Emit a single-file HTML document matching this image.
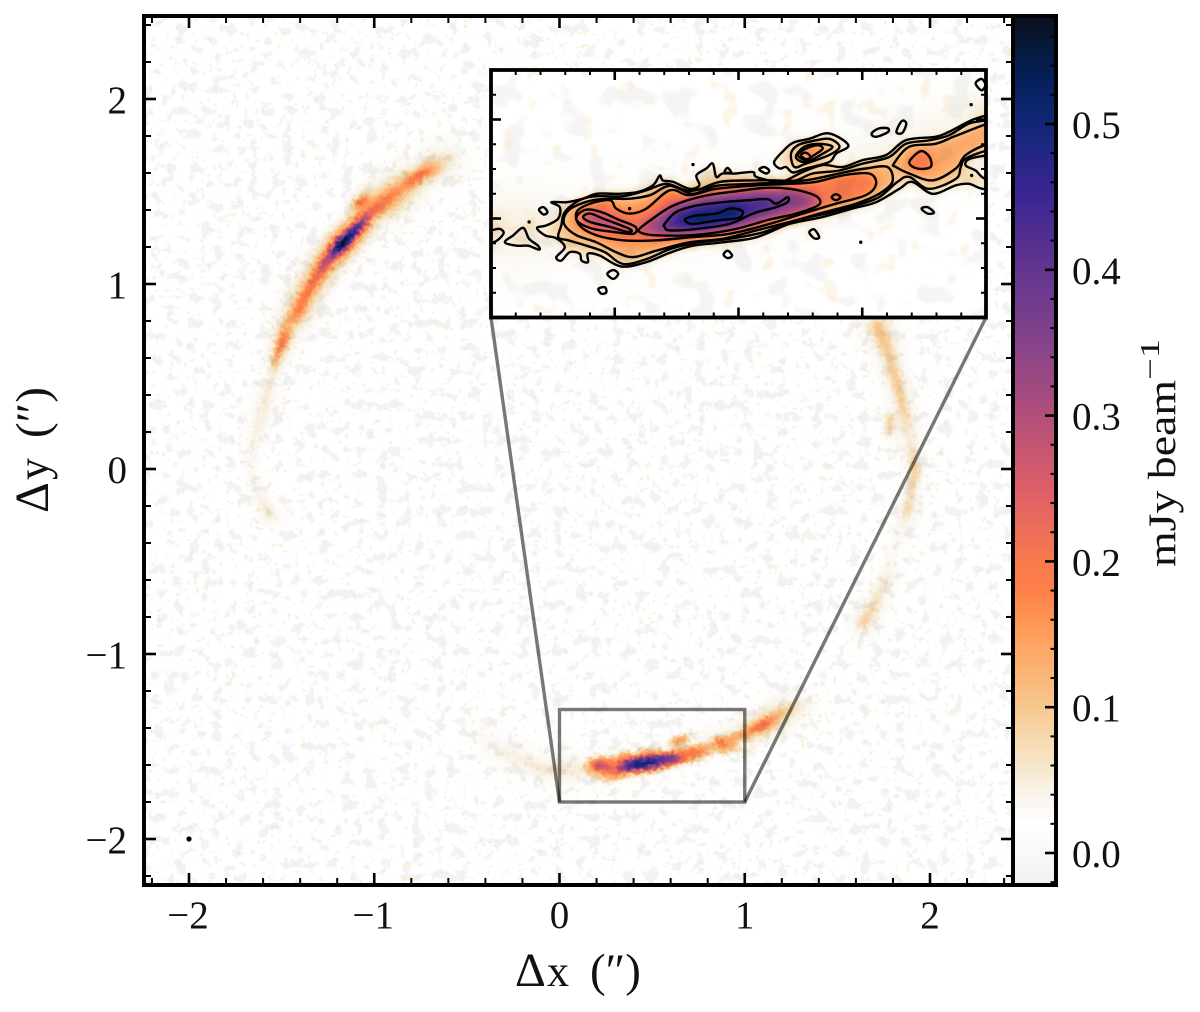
<!DOCTYPE html>
<html lang="en">
<head>
<meta charset="utf-8">
<title>Lensed arc continuum map</title>
<style>
html,body{margin:0;padding:0;background:#fff;}
#page{position:relative;width:1200px;height:1012px;overflow:hidden;background:#fff;}
#main-map{position:absolute;left:143px;top:16px;width:869px;height:868px;filter:url(#rough);}
#inset-map{position:absolute;left:491px;top:70px;width:496px;height:247px;background:#fff;}
svg{position:absolute;left:0;top:0;}
text{font-family:"Liberation Serif","DejaVu Serif",serif;fill:#111;font-size:39px;}
</style>
</head>
<body>
<div id="page">
<canvas id="main-map" width="435" height="434"></canvas>
<svg id="under" width="1200" height="1012" style="z-index:1;mix-blend-mode:multiply">
  <defs>
    <filter id="rough" x="0" y="0" width="100%" height="100%" color-interpolation-filters="sRGB">
      <feTurbulence type="fractalNoise" baseFrequency="0.25" numOctaves="2" seed="3" result="n"/>
      <feDisplacementMap in="SourceGraphic" in2="n" scale="7" xChannelSelector="R" yChannelSelector="G"/>
    </filter>
    <filter id="greyBlotch" x="0" y="0" width="100%" height="100%" color-interpolation-filters="sRGB">
      <feTurbulence type="fractalNoise" baseFrequency="0.085" numOctaves="3" seed="11"/>
      <feColorMatrix type="matrix" values="0 0 0 0 0.95  0 0 0 0 0.95  0 0 0 0 0.95  9 0 0 0 -5.1"/>
    </filter>
    <filter id="peachSpeck" x="0" y="0" width="100%" height="100%" color-interpolation-filters="sRGB">
      <feTurbulence type="fractalNoise" baseFrequency="0.16" numOctaves="2" seed="27"/>
      <feColorMatrix type="matrix" values="0 0 0 0 0.98  0 0 0 0 0.9  0 0 0 0 0.78  0 10 0 0 -6.6"/>
    </filter>
    <filter id="greyBlotchInset" x="0" y="0" width="100%" height="100%" color-interpolation-filters="sRGB">
      <feTurbulence type="fractalNoise" baseFrequency="0.036" numOctaves="2" seed="5"/>
      <feColorMatrix type="matrix" values="0 0 0 0 0.96  0 0 0 0 0.96  0 0 0 0 0.96  9 0 0 0 -5.1"/>
    </filter>
    <filter id="peachSpeckInset" x="0" y="0" width="100%" height="100%" color-interpolation-filters="sRGB">
      <feTurbulence type="fractalNoise" baseFrequency="0.05" numOctaves="2" seed="19"/>
      <feColorMatrix type="matrix" values="0 0 0 0 0.98  0 0 0 0 0.92  0 0 0 0 0.82  0 8 0 0 -5"/>
    </filter>
    <clipPath id="insetClip"><rect x="491" y="70" width="495" height="247.5"/></clipPath>
  </defs>
  <rect x="143" y="16" width="869" height="868" filter="url(#greyBlotch)"/>
  <rect x="143" y="16" width="869" height="868" filter="url(#peachSpeck)" opacity="0.55"/>
</svg>
<canvas id="inset-map" width="496" height="247" style="z-index:2"></canvas>
<svg id="insetNoise" width="1200" height="1012" style="z-index:3;mix-blend-mode:multiply">
  <g clip-path="url(#insetClip)">
    <rect x="491" y="70" width="495" height="248" filter="url(#greyBlotchInset)"/>
    <rect x="491" y="70" width="495" height="248" filter="url(#peachSpeckInset)" opacity="0.5"/>
  </g>
</svg>
<svg id="top" width="1200" height="1012" style="z-index:4">
  <defs>
    <linearGradient id="cbarGrad" x1="0" y1="1" x2="0" y2="0"></linearGradient>
  </defs>
  <g id="contours" clip-path="url(#insetClip)" fill="none" stroke="#000" stroke-width="2.4" stroke-linejoin="round"></g>
  <g id="contourDots" clip-path="url(#insetClip)"></g>
  <g id="zoomGuides" fill="none" stroke="#000" stroke-opacity="0.53" stroke-width="3.4"></g>
  <circle id="beam" r="2.6" fill="#000"></circle>
  <rect id="cbarFill" x="1013" y="16" width="43" height="869" fill="url(#cbarGrad)"/>
  <g id="mainTicks" stroke="#000"></g>
  <g id="insetTicks" stroke="#000"></g>
  <g id="cbarTicks" stroke="#000"></g>
  <rect x="144" y="16" width="869" height="869" fill="none" stroke="#000" stroke-width="4"/>
  <rect x="491" y="70" width="495" height="247.5" fill="none" stroke="#000" stroke-width="3.8"/>
  <rect x="1013" y="16" width="43" height="869" fill="none" stroke="#000" stroke-width="4"/>
  <g id="tickLabels"></g>
  <text y="986"><tspan x="515" style="font-size:48px">Δ</tspan><tspan x="547" style="font-size:44px">x</tspan><tspan x="590" style="font-size:47px">(″)</tspan></text>
  <text transform="translate(48,513) rotate(-90)"><tspan x="0" style="font-size:48px">Δ</tspan><tspan x="33" style="font-size:44px">y</tspan><tspan x="75" style="font-size:47px">(″)</tspan></text>
  <text transform="translate(1175,567) rotate(-90)" textLength="187" lengthAdjust="spacingAndGlyphs">mJy beam</text>
  <text transform="translate(1159,380) rotate(-90)" textLength="41" lengthAdjust="spacingAndGlyphs" style="font-size:27px">−1</text>
</svg>
</div>
<script>
/* ---------- axes values ---------- */
const xTickValues = [-2, -1, 0, 1, 2];
const yTickValues = [-2, -1, 0, 1, 2];
const axisTickLabels = ['−2', '−1', '0', '1', '2'];
const colorbarTickValues = [0, 0.1, 0.2, 0.3, 0.4, 0.5];
const colorbarTickLabels = ['0.0', '0.1', '0.2', '0.3', '0.4', '0.5'];
const insetXTicks = [0.25, 0.5, 0.75];
const insetYTicks = [-1.6, -1.4];

/* ---------- colour map (mJy/beam → colour) ---------- */
const cmapValues = [-0.021, 0, 0.018, 0.04, 0.06, 0.08, 0.1, 0.125, 0.15, 0.18, 0.2, 0.25, 0.3, 0.35, 0.4, 0.45, 0.5, 0.53, 0.55, 0.574];
const cmapColors = ['#f2f2f2', '#f8f8f8', '#ffffff', '#f9f5ec', '#f6e6cb', '#f6d8ad', '#f6c88f', '#fbb374', '#fe9e5d', '#ff8048', '#f87a4e', '#dd5e68', '#b24f7a', '#85438a', '#63358f', '#3c2692', '#112777', '#05205a', '#061a40', '#0a0f1c'];

/* ---------- arc ridges: position (arcsec), peak flux (mJy/beam), width (arcsec) ---------- */
const leftArcX = [-1.545, -1.499, -1.464, -1.41, -1.365, -1.311, -1.239, -1.176, -1.095, -1.023, -0.933, -0.843, -0.753, -0.627, -0.555];
const leftArcY = [0.553, 0.679, 0.778, 0.859, 0.95, 1.039, 1.148, 1.216, 1.301, 1.382, 1.454, 1.526, 1.589, 1.661, 1.706];
const leftArcPeak = [0.04, 0.19, 0.1, 0.17, 0.17, 0.2, 0.3, 0.57, 0.42, 0.2, 0.17, 0.13, 0.2, 0.05, 0.02];
const leftArcWidth = [0.012, 0.014, 0.022, 0.022, 0.022, 0.022, 0.02, 0.018, 0.018, 0.02, 0.028, 0.028, 0.016, 0.03, 0.02];
const leftKnotX = [-1.08, -1.055];
const leftKnotY = [1.435, 1.455];
const leftKnotPeak = [0.16, 0.15];
const leftKnotWidth = [0.014, 0.014];
const leftTailX = [-1.52, -1.58, -1.615, -1.66, -1.665, -1.63, -1.563];
const leftTailY = [0.6, 0.4, 0.265, 0.1, -0.02, -0.14, -0.249];
const leftTailPeak = [0.02, 0.035, 0.03, 0.018, 0.012, 0.022, 0.04];
const leftTailWidth = [0.016, 0.018, 0.02, 0.016, 0.014, 0.016, 0.018];
const rightArcX = [1.719, 1.784, 1.827, 1.854, 1.892, 1.919, 1.881];
const rightArcY = [0.768, 0.605, 0.443, 0.335, 0.173, -0.016, -0.222];
const rightArcPeak = [0.09, 0.075, 0.075, 0.07, 0.03, 0.075, 0.025];
const rightArcWidth = [0.024, 0.02, 0.018, 0.018, 0.022, 0.014, 0.018];
const rightKnotX = [1.784, 1.78];
const rightKnotY = [0.27, 0.2];
const rightKnotPeak = [0.07, 0.05];
const rightKnotWidth = [0.012, 0.012];
const rightFaintX = [1.881, 1.82, 1.77];
const rightFaintY = [-0.222, -0.4, -0.6];
const rightFaintPeak = [0.03, 0.012, 0.015];
const rightFaintWidth = [0.02, 0.02, 0.02];
const rightLowerX = [1.76, 1.692, 1.638];
const rightLowerY = [-0.6, -0.746, -0.832];
const rightLowerPeak = [0.025, 0.055, 0.07];
const rightLowerWidth = [0.016, 0.02, 0.018];
const bottomRightX = [1.03, 1.099, 1.19, 1.298];
const bottomRightY = [-1.415, -1.384, -1.33, -1.276];
const bottomRightPeak = [0.14, 0.2, 0.09, 0.035];
const bottomRightWidth = [0.018, 0.018, 0.024, 0.024];
const bottomLeftX = [0, -0.08, -0.27, -0.43];
const bottomLeftY = [-1.62, -1.627, -1.546, -1.44];
const bottomLeftPeak = [0.04, 0.035, 0.025, 0.01];
const bottomLeftWidth = [0.024, 0.024, 0.024, 0.024];
const bottomGlowX = [0.1, 0.3, 0.5, 0.7, 0.9];
const bottomGlowY = [-1.62, -1.62, -1.58, -1.52, -1.44];
const bottomGlowPeak = [0.028, 0.03, 0.028, 0.028, 0.025];
const bottomGlowWidth = [0.025, 0.025, 0.025, 0.025, 0.025];

/* ---------- traced inset contours, flat u,v pairs in milli-arcsec from the inset's top-left
   corner (x = u/1000, y = -1.3 - v/1000), one array per contour level ---------- */
const contourFill = [0.065, 0.09, 0.12, 0.185, 0.22, 0.33, 0.45, 0.55];
const level1Contours = [
 [93,319,109,334,132,340,149,358,132,378,142,385,159,368,179,371,183,385,196,388,196,371,220,375,263,397,314,388,364,368,408,355,468,348,536,338,603,311,670,297,730,280,778,267,825,240,851,226,892,250,939,233,966,230,993,240,1046,243,1046,223,999,220,979,203,959,193,966,180,1006,172,1046,169,1046,84,1005,91,972,101,925,125,898,135,838,142,798,172,751,182,710,196,670,192,630,206,596,223,576,226,536,216,529,206,495,209,468,209,455,216,448,189,435,199,415,213,421,233,401,240,368,226,347,223,341,213,327,233,294,247,253,250,213,250,186,260,153,267,122,267,139,277,136,300,112,314],
 [572,186,589,165,610,147,643,139,683,128,722,152,697,169,683,186,636,199,610,207,596,196,583,199],
 [28,348,45,334,65,319,77,341,95,355,97,363,75,355,52,355],
 [-2,324,18,321,25,331,5,348,-29,348,-29,324],
 [97,282,106,277,114,287,106,292],
 [235,412,247,404,257,412,247,422],
 [217,442,230,439,233,449,223,452],
 [470,373,478,365,487,375,478,380],
 [643,328,653,322,663,338,653,340],
 [870,280,882,277,895,288,882,290],
 [819,125,830,103,839,108,831,127],
 [769,128,784,118,802,118,801,126,777,135],
 [979,27,991,18,999,30,991,41],
 [472,206,478,198,485,207],
 [542,201,552,196,562,203,556,209]
];
const level2Contours = [
 [149,287,142,314,136,338,156,344,193,355,230,368,267,392,314,382,364,361,415,349,482,341,549,328,616,304,677,290,737,274,784,257,821,226,845,216,885,240,939,220,949,196,959,179,1005,162,1046,159,1046,91,1005,101,966,108,925,132,885,142,838,149,804,176,751,189,704,203,650,209,616,223,576,223,522,223,462,226,421,241,394,243,354,230,314,243,267,255,213,255,179,263],
 [606,169,620,152,647,144,683,139,704,155,683,172,636,189,613,196]
];
const level3Contours = [
 [166,277,206,263,247,260,280,260,321,253,361,234,408,250,455,234,529,230,603,226,653,220,717,206,757,199,801,196,811,226,784,250,737,270,670,288,603,307,536,324,468,341,401,348,334,365,287,378,253,368,213,348,173,334,149,314,149,294],
 [814,189,845,155,898,149,939,133,1005,108,1046,101,1046,149,1005,149,959,172,939,199,892,223,845,209,818,196],
 [616,176,633,155,663,149,690,155,670,169,636,186]
];
const level4Contours = [
 [173,287,200,270,240,263,253,280,280,290,314,280,361,243,401,253,455,240,536,233,603,230,656,226,710,213,764,209,778,230,757,253,697,270,630,290,563,311,482,331,401,338,334,344,267,344,213,334,179,314],
 [620,172,636,159,660,152,670,159,653,172,636,182]
];
const level5Contours = [
 [174,294,193,282,223,287,257,302,292,317,287,331,247,327,206,321,176,307],
 [688,257,697,251,706,257,697,263],
 [845,186,868,164,886,176,888,196,861,199],
 [626,172,636,167,646,176,636,180]
];
const level6Contours = [
 [300,321,327,300,368,274,428,255,495,245,556,238,603,240,643,249,663,260,660,274,616,290,563,302,495,321,415,333,334,334,304,329],
 [186,297,200,290,226,300,280,321,277,327,240,317,200,307]
];
const level7Contours = [
 [351,311,374,287,415,274,468,267,522,263,559,261,576,270,599,257,599,267,576,277,529,290,482,311,415,321,361,324,351,317]
];
const level8Contours = [
 [394,300,415,294,455,290,482,280,502,282,509,288,499,299,455,304,408,311,394,306]
];
const contourDotsU = [408, 747, 77, 280, 971, 970];
const contourDotsV = [191, 348, 307, 280, 213, 70];

const allRidges = [
 [leftArcX, leftArcY, leftArcPeak, leftArcWidth],
 [leftKnotX, leftKnotY, leftKnotPeak, leftKnotWidth],
 [leftTailX, leftTailY, leftTailPeak, leftTailWidth],
 [rightArcX, rightArcY, rightArcPeak, rightArcWidth],
 [rightKnotX, rightKnotY, rightKnotPeak, rightKnotWidth],
 [rightFaintX, rightFaintY, rightFaintPeak, rightFaintWidth],
 [rightLowerX, rightLowerY, rightLowerPeak, rightLowerWidth],
 [bottomRightX, bottomRightY, bottomRightPeak, bottomRightWidth],
 [bottomLeftX, bottomLeftY, bottomLeftPeak, bottomLeftWidth],
 [bottomGlowX, bottomGlowY, bottomGlowPeak, bottomGlowWidth]
];
const allContours = [level1Contours, level2Contours, level3Contours, level4Contours, level5Contours, level6Contours, level7Contours, level8Contours];

/* ---------- axis functions ---------- */
const SVGNS = 'http://www.w3.org/2000/svg';
const mainX = v => 559.5 + 185.25 * v;
const mainY = v => 469 - 185 * v;
const invMainX = p => (p - 559.5) / 185.25;
const invMainY = p => (469 - p) / 185;
const insetX = v => 491 + 495 * v;
const insetY = v => 70 + 495 * (-1.3 - v);
const cbarY = v => 853 - 1458 * v;

/* ---------- colour lookup ---------- */
function hexRGB(h) { return [parseInt(h.slice(1, 3), 16), parseInt(h.slice(3, 5), 16), parseInt(h.slice(5, 7), 16)]; }
const cmapRGB = cmapColors.map(hexRGB);
function colourOf(v) {
  if (v <= cmapValues[0]) return cmapRGB[0];
  for (let i = 1; i < cmapValues.length; i++) {
    if (v <= cmapValues[i]) {
      const t = (v - cmapValues[i - 1]) / (cmapValues[i] - cmapValues[i - 1]);
      const a = cmapRGB[i - 1], b = cmapRGB[i];
      return [a[0] + (b[0] - a[0]) * t, a[1] + (b[1] - a[1]) * t, a[2] + (b[2] - a[2]) * t];
    }
  }
  return cmapRGB[cmapRGB.length - 1];
}

/* ---------- ridge field on the main grid ---------- */
const GW = 435, GH = 434;
const ridgeField = new Float32Array(GW * GH);
function gridX(i) { return invMainX(143 + (i + 0.5) * 869 / GW); }
function gridY(j) { return invMainY(16 + (j + 0.5) * 868 / GH); }
function addRidge(xs, ys, ps, ws, peakScale, widthScale) {
  const tmp = new Float32Array(GW * GH);
  for (let s = 0; s < xs.length - 1; s++) {
    const x0 = xs[s], y0 = ys[s], x1 = xs[s + 1], y1 = ys[s + 1];
    const reach = 3.6 * Math.max(ws[s], ws[s + 1]) * widthScale;
    const iMin = Math.max(0, Math.floor((mainX(Math.min(x0, x1) - reach) - 143) * GW / 869));
    const iMax = Math.min(GW - 1, Math.ceil((mainX(Math.max(x0, x1) + reach) - 143) * GW / 869));
    const jMin = Math.max(0, Math.floor((mainY(Math.max(y0, y1) + reach) - 16) * GH / 868));
    const jMax = Math.min(GH - 1, Math.ceil((mainY(Math.min(y0, y1) - reach) - 16) * GH / 868));
    const dx = x1 - x0, dy = y1 - y0, len2 = dx * dx + dy * dy;
    for (let j = jMin; j <= jMax; j++) {
      const py = gridY(j);
      for (let i = iMin; i <= iMax; i++) {
        const px = gridX(i);
        let t = ((px - x0) * dx + (py - y0) * dy) / len2;
        t = t < 0 ? 0 : t > 1 ? 1 : t;
        const ex = px - x0 - t * dx, ey = py - y0 - t * dy;
        const w = (ws[s] + (ws[s + 1] - ws[s]) * t) * widthScale;
        const a = (ps[s] + (ps[s + 1] - ps[s]) * t) * peakScale;
        const val = a * Math.exp(-(ex * ex + ey * ey) / (2 * w * w));
        const k = j * GW + i;
        if (val > tmp[k]) tmp[k] = val;
      }
    }
  }
  for (let k = 0; k < tmp.length; k++) ridgeField[k] += tmp[k];
}
allRidges.forEach(r => {
  addRidge(r[0], r[1], r[2], r[3], 0.62, 1.15);
  addRidge(r[0], r[1], r[2], r[3], 0.4, 2.7);
});
function ridgeAt(x, y) {
  const fx = (mainX(x) - 143) * GW / 869 - 0.5, fy = (mainY(y) - 16) * GH / 868 - 0.5;
  const i = Math.floor(fx), j = Math.floor(fy);
  if (i < 0 || j < 0 || i >= GW - 1 || j >= GH - 1) return 0;
  const a = fx - i, b = fy - j;
  return (ridgeField[j * GW + i] * (1 - a) + ridgeField[j * GW + i + 1] * a) * (1 - b) +
         (ridgeField[(j + 1) * GW + i] * (1 - a) + ridgeField[(j + 1) * GW + i + 1] * a) * b;
}

/* ---------- contour-traced field for the lower arc ---------- */
const CELL = 4, U0 = -40, V0 = -40, PW = 275, PH = 146;
let polyField = new Float32Array(PW * PH);
allContours.forEach((polys, level) => {
  polys.forEach(poly => {
    for (let j = 0; j < PH; j++) {
      const v = V0 + (j + 0.5) * CELL;
      const hits = [];
      const n = poly.length / 2;
      for (let a = 0; a < n; a++) {
        const b = (a + 1) % n;
        const ua = poly[2 * a], va = poly[2 * a + 1], ub = poly[2 * b], vb = poly[2 * b + 1];
        if ((va <= v) !== (vb <= v)) hits.push(ua + (v - va) / (vb - va) * (ub - ua));
      }
      hits.sort((p, q) => p - q);
      for (let h = 0; h + 1 < hits.length; h += 2) {
        const i0 = Math.max(0, Math.ceil((hits[h] - U0) / CELL - 0.5));
        const i1 = Math.min(PW - 1, Math.floor((hits[h + 1] - U0) / CELL - 0.5));
        for (let i = i0; i <= i1; i++) {
          const k = j * PW + i;
          if (contourFill[level] > polyField[k]) polyField[k] = contourFill[level];
        }
      }
    }
  });
});
function boxBlur(src, r) {
  let out = new Float32Array(src.length);
  for (let j = 0; j < PH; j++) for (let i = 0; i < PW; i++) {
    let s = 0, c = 0;
    for (let d = -r; d <= r; d++) { const q = i + d; if (q >= 0 && q < PW) { s += src[j * PW + q]; c++; } }
    out[j * PW + i] = s / c;
  }
  const out2 = new Float32Array(src.length);
  for (let j = 0; j < PH; j++) for (let i = 0; i < PW; i++) {
    let s = 0, c = 0;
    for (let d = -r; d <= r; d++) { const q = j + d; if (q >= 0 && q < PH) { s += out[q * PW + i]; c++; } }
    out2[j * PW + i] = s / c;
  }
  return out2;
}
polyField = boxBlur(boxBlur(polyField, 3), 3);
function polyAt(x, y) {
  const fx = (x * 1000 - U0) / CELL - 0.5, fy = ((-1.3 - y) * 1000 - V0) / CELL - 0.5;
  const i = Math.floor(fx), j = Math.floor(fy);
  if (i < 0 || j < 0 || i >= PW - 1 || j >= PH - 1) return 0;
  const a = fx - i, b = fy - j;
  return (polyField[j * PW + i] * (1 - a) + polyField[j * PW + i + 1] * a) * (1 - b) +
         (polyField[(j + 1) * PW + i] * (1 - a) + polyField[(j + 1) * PW + i + 1] * a) * b;
}
const BASE = 0.018;
function fieldAt(x, y) {
  const p = polyAt(x, y), r = ridgeAt(x, y);
  return BASE + Math.max(p, r);
}

/* ---------- paint both maps ---------- */
function paint(canvasId, w, h, toData) {
  const cv = document.getElementById(canvasId);
  const ctx = cv.getContext('2d');
  const img = ctx.createImageData(w, h);
  for (let j = 0; j < h; j++) for (let i = 0; i < w; i++) {
    const d = toData(i, j);
    const c = colourOf(fieldAt(d[0], d[1]));
    const k = (j * w + i) * 4;
    img.data[k] = c[0]; img.data[k + 1] = c[1]; img.data[k + 2] = c[2]; img.data[k + 3] = 255;
  }
  ctx.putImageData(img, 0, 0);
}
paint('main-map', GW, GH, (i, j) => [gridX(i), gridY(j)]);
paint('inset-map', 496, 247, (i, j) => [(i + 0.5) / 495, -1.3 - (j + 0.5) / 495]);

/* ---------- contours (closed Catmull-Rom through the traced vertices) ---------- */
const contourGroup = document.getElementById('contours');
allContours.forEach((polys, level) => {
  polys.forEach(poly => {
    const pts = [];
    for (let a = 0; a < poly.length; a += 2) pts.push([insetX(poly[a] / 1000), insetY(-1.3 - poly[a + 1] / 1000)]);
    const n = pts.length;
    let d = 'M' + pts[0][0].toFixed(1) + ' ' + pts[0][1].toFixed(1);
    for (let i = 0; i < n; i++) {
      const p0 = pts[(i - 1 + n) % n], p1 = pts[i], p2 = pts[(i + 1) % n], p3 = pts[(i + 2) % n];
      d += 'C' + (p1[0] + (p2[0] - p0[0]) / 6).toFixed(1) + ' ' + (p1[1] + (p2[1] - p0[1]) / 6).toFixed(1) +
           ' ' + (p2[0] - (p3[0] - p1[0]) / 6).toFixed(1) + ' ' + (p2[1] - (p3[1] - p1[1]) / 6).toFixed(1) +
           ' ' + p2[0].toFixed(1) + ' ' + p2[1].toFixed(1);
    }
    const path = document.createElementNS(SVGNS, 'path');
    path.setAttribute('d', d + 'Z');
    
    
    contourGroup.appendChild(path);
  });
});
const dotGroup = document.getElementById('contourDots');
contourDotsU.forEach((u, i) => {
  const dot = document.createElementNS(SVGNS, 'circle');
  dot.setAttribute('cx', insetX(u / 1000));
  dot.setAttribute('cy', insetY(-1.3 - contourDotsV[i] / 1000));
  dot.setAttribute('r', 1.7);
  
  
  dotGroup.appendChild(dot);
});

/* ---------- zoom guides ---------- */
const guideBoxX = [0, 1];
const guideBoxY = [-1.8, -1.3];
const guides = document.getElementById('zoomGuides');
const guideRect = document.createElementNS(SVGNS, 'rect');
guideRect.setAttribute('x', mainX(guideBoxX[0]));
guideRect.setAttribute('y', mainY(guideBoxY[1]));
guideRect.setAttribute('width', mainX(guideBoxX[1]) - mainX(guideBoxX[0]));
guideRect.setAttribute('height', mainY(guideBoxY[0]) - mainY(guideBoxY[1]));


guides.appendChild(guideRect);
const leftGuide = document.createElementNS(SVGNS, 'line');
leftGuide.setAttribute('x1', mainX(guideBoxX[0]));
leftGuide.setAttribute('y1', mainY(guideBoxY[0]));
leftGuide.setAttribute('x2', 491);
leftGuide.setAttribute('y2', 317.5);


guides.appendChild(leftGuide);
const rightGuide = document.createElementNS(SVGNS, 'line');
rightGuide.setAttribute('x1', mainX(guideBoxX[1]));
rightGuide.setAttribute('y1', mainY(guideBoxY[0]));
rightGuide.setAttribute('x2', 986);
rightGuide.setAttribute('y2', 317.5);


guides.appendChild(rightGuide);

/* ---------- beam ---------- */
const beamPos = [-2, -2];
const beam = document.getElementById('beam');
beam.setAttribute('cx', mainX(beamPos[0]));
beam.setAttribute('cy', mainY(beamPos[1]));

/* ---------- colorbar gradient ---------- */
const grad = document.getElementById('cbarGrad');
const cbarMin = (853 - 885) / 1458, cbarMax = (853 - 16) / 1458;
cmapValues.forEach((v, i) => {
  const st = document.createElementNS(SVGNS, 'stop');
  st.setAttribute('offset', Math.max(0, Math.min(1, (v - cbarMin) / (cbarMax - cbarMin))));
  st.setAttribute('stop-color', cmapColors[i]);
  grad.appendChild(st);
});

/* ---------- ticks ---------- */
function tick(parent, x1, y1, x2, y2, width, name) {
  const l = document.createElementNS(SVGNS, 'line');
  l.setAttribute('x1', x1); l.setAttribute('y1', y1);
  l.setAttribute('x2', x2); l.setAttribute('y2', y2);
  l.setAttribute('stroke-width', width);
  
  
  parent.appendChild(l);
}
const mainG = document.getElementById('mainTicks');
for (let n = -11; n <= 12; n++) {
  const v = n * 0.2, major = n % 5 === 0;
  const len = major ? 12 : 7, w = major ? 2.6 : 2;
  const nm = major ? 'main-major-tick' : 'main-minor-tick';
  tick(mainG, mainX(v), 885, mainX(v), 885 - len, w, nm);
  tick(mainG, mainX(v), 16, mainX(v), 16 + len, w, nm);
  tick(mainG, 144, mainY(v), 144 + len, mainY(v), w, nm);
  tick(mainG, 1013, mainY(v), 1013 - len, mainY(v), w, nm);
}
const insetG = document.getElementById('insetTicks');
for (let n = 1; n < 20; n++) {
  const v = n * 0.05, major = insetXTicks.some(t => Math.abs(t - v) < 1e-6);
  const len = major ? 10 : 5, w = major ? 2.6 : 2;
  const nm = major ? 'inset-major-tick' : 'inset-minor-tick';
  tick(insetG, insetX(v), 317.5, insetX(v), 317.5 - len, w, nm);
  tick(insetG, insetX(v), 70, insetX(v), 70 + len, w, nm);
}
for (let n = 1; n < 10; n++) {
  const v = -1.3 - n * 0.05, major = insetYTicks.some(t => Math.abs(t - v) < 1e-6);
  const len = major ? 10 : 5, w = major ? 2.6 : 2;
  const nm = major ? 'inset-major-tick' : 'inset-minor-tick';
  tick(insetG, 491, insetY(v), 491 + len, insetY(v), w, nm);
  tick(insetG, 986, insetY(v), 986 - len, insetY(v), w, nm);
}
const cbarG = document.getElementById('cbarTicks');
for (let n = -1; n <= 28; n++) {
  const v = n * 0.02, major = n % 5 === 0;
  tick(cbarG, 1056, cbarY(v), 1056 - (major ? 11 : 5.5), cbarY(v), major ? 2.6 : 2, major ? 'colorbar-major-tick' : 'colorbar-minor-tick');
}

/* ---------- tick labels ---------- */
const labelG = document.getElementById('tickLabels');
function label(x, y, str, anchor, name) {
  const t = document.createElementNS(SVGNS, 'text');
  t.setAttribute('x', x); t.setAttribute('y', y);
  t.setAttribute('text-anchor', anchor);
  
  
  t.textContent = str;
  labelG.appendChild(t);
}
xTickValues.forEach((v, i) => label(mainX(v) + (v < 0 ? -1 : 0), 928, axisTickLabels[i], 'middle', 'x-tick-label'));
yTickValues.forEach((v, i) => label(127, mainY(v) + 14, axisTickLabels[i], 'end', 'y-tick-label'));
colorbarTickValues.forEach((v, i) => label(1072, cbarY(v) + 14, colorbarTickLabels[i], 'start', 'colorbar-tick-label'));
</script>
</body>
</html>
